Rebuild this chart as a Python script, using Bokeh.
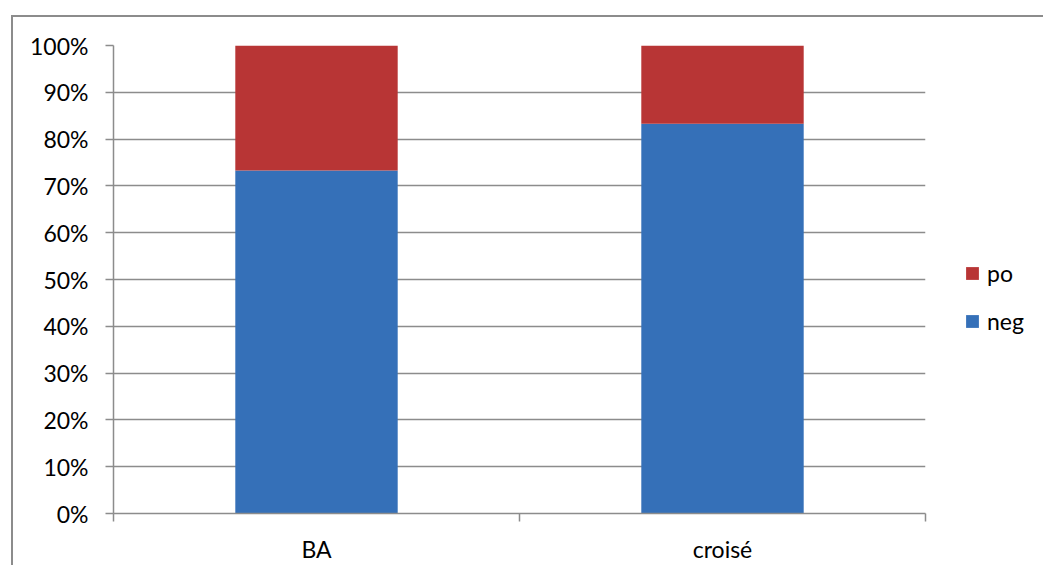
from bokeh.plotting import figure
from bokeh.models import Range1d, FixedTicker, LinearAxis, Legend, LegendItem
from bokeh.embed import file_html
from bokeh.resources import INLINE

categories = ["BA", "croisé"]
neg = [0.733, 0.833]
po = [0.267, 0.167]
y_ticks = [0.0, 0.1, 0.2, 0.3, 0.4, 0.5, 0.6, 0.7, 0.8, 0.9, 1.0]
y_labels = ["0%", "10%", "20%", "30%", "40%", "50%", "60%", "70%", "80%", "90%", "100%"]

xs = [i + 0.5 for i in range(len(categories))]
tops = [n + q for n, q in zip(neg, po)]
bounds = list(range(len(categories) + 1))

FONT = "Lato"
GRAY = "#8c8c8c"

p = figure(frame_width=812, frame_height=468, x_range=Range1d(0, len(categories)), y_range=Range1d(0, 1),
           output_backend="svg", toolbar_location=None, x_axis_location=None,
           min_border_left=100, min_border_top=28, min_border_bottom=52, min_border_right=118)
p.margin = (15, 0, 0, 11)
p.styles = {"border-left": "2px solid #8c8c8c", "border-top": "2px solid #8c8c8c"}
p.outline_line_color = None
p.background_fill_color = "white"
p.border_fill_color = "white"

# y axis
yax = p.yaxis[0]
yax.ticker = FixedTicker(ticks=y_ticks)
yax.major_label_overrides = {t: l for t, l in zip(y_ticks, y_labels)}
yax.axis_line_color = GRAY
yax.axis_line_width = 1.5
yax.major_tick_line_color = GRAY
yax.major_tick_line_width = 1.5
yax.major_tick_out = 8
yax.major_tick_in = 0
yax.minor_tick_line_color = None
yax.major_label_text_font = FONT
yax.major_label_text_font_size = "23px"
yax.major_label_text_color = "black"
yax.major_label_standoff = 17

p.ygrid.ticker = FixedTicker(ticks=y_ticks)
p.ygrid.grid_line_color = GRAY
p.ygrid.grid_line_width = 1.5
p.xgrid.visible = False

# x axis: ticks at category boundaries
ax1 = LinearAxis(ticker=FixedTicker(ticks=bounds),
                 major_label_overrides={b: "" for b in bounds},
                 major_label_text_font_size="0px", major_label_standoff=0,
                 axis_line_color=GRAY, axis_line_width=1.5,
                 major_tick_line_color=GRAY, major_tick_line_width=1.5,
                 major_tick_out=8, major_tick_in=0, minor_tick_line_color=None)
p.add_layout(ax1, "below")

# x axis: category labels at centers
ax2 = LinearAxis(ticker=FixedTicker(ticks=xs),
                 major_label_overrides={x: c for x, c in zip(xs, categories)},
                 axis_line_color=None, major_tick_line_color=None, minor_tick_line_color=None,
                 major_label_text_font=FONT, major_label_text_font_size="23px",
                 major_label_text_color="black", major_label_standoff=7)
p.add_layout(ax2, "below")

r_neg = p.vbar(x=xs, bottom=0, top=neg, width=0.4, fill_color="#3570b8", line_color=None)
r_po = p.vbar(x=xs, bottom=neg, top=tops, width=0.4, fill_color="#b83535", line_color=None)

legend = Legend(items=[LegendItem(label="po", renderers=[r_po]),
                       LegendItem(label="neg", renderers=[r_neg])],
                location=(39, 178), orientation="vertical",
                glyph_width=16, glyph_height=16, label_height=16, label_width=40,
                label_standoff=7, spacing=20, padding=0, margin=0, border_line_color=None,
                background_fill_alpha=0,
                label_text_font=FONT, label_text_font_size="23px", label_text_color="black")
p.add_layout(legend, "right")

open("out.html", "w").write(file_html(p, INLINE))
